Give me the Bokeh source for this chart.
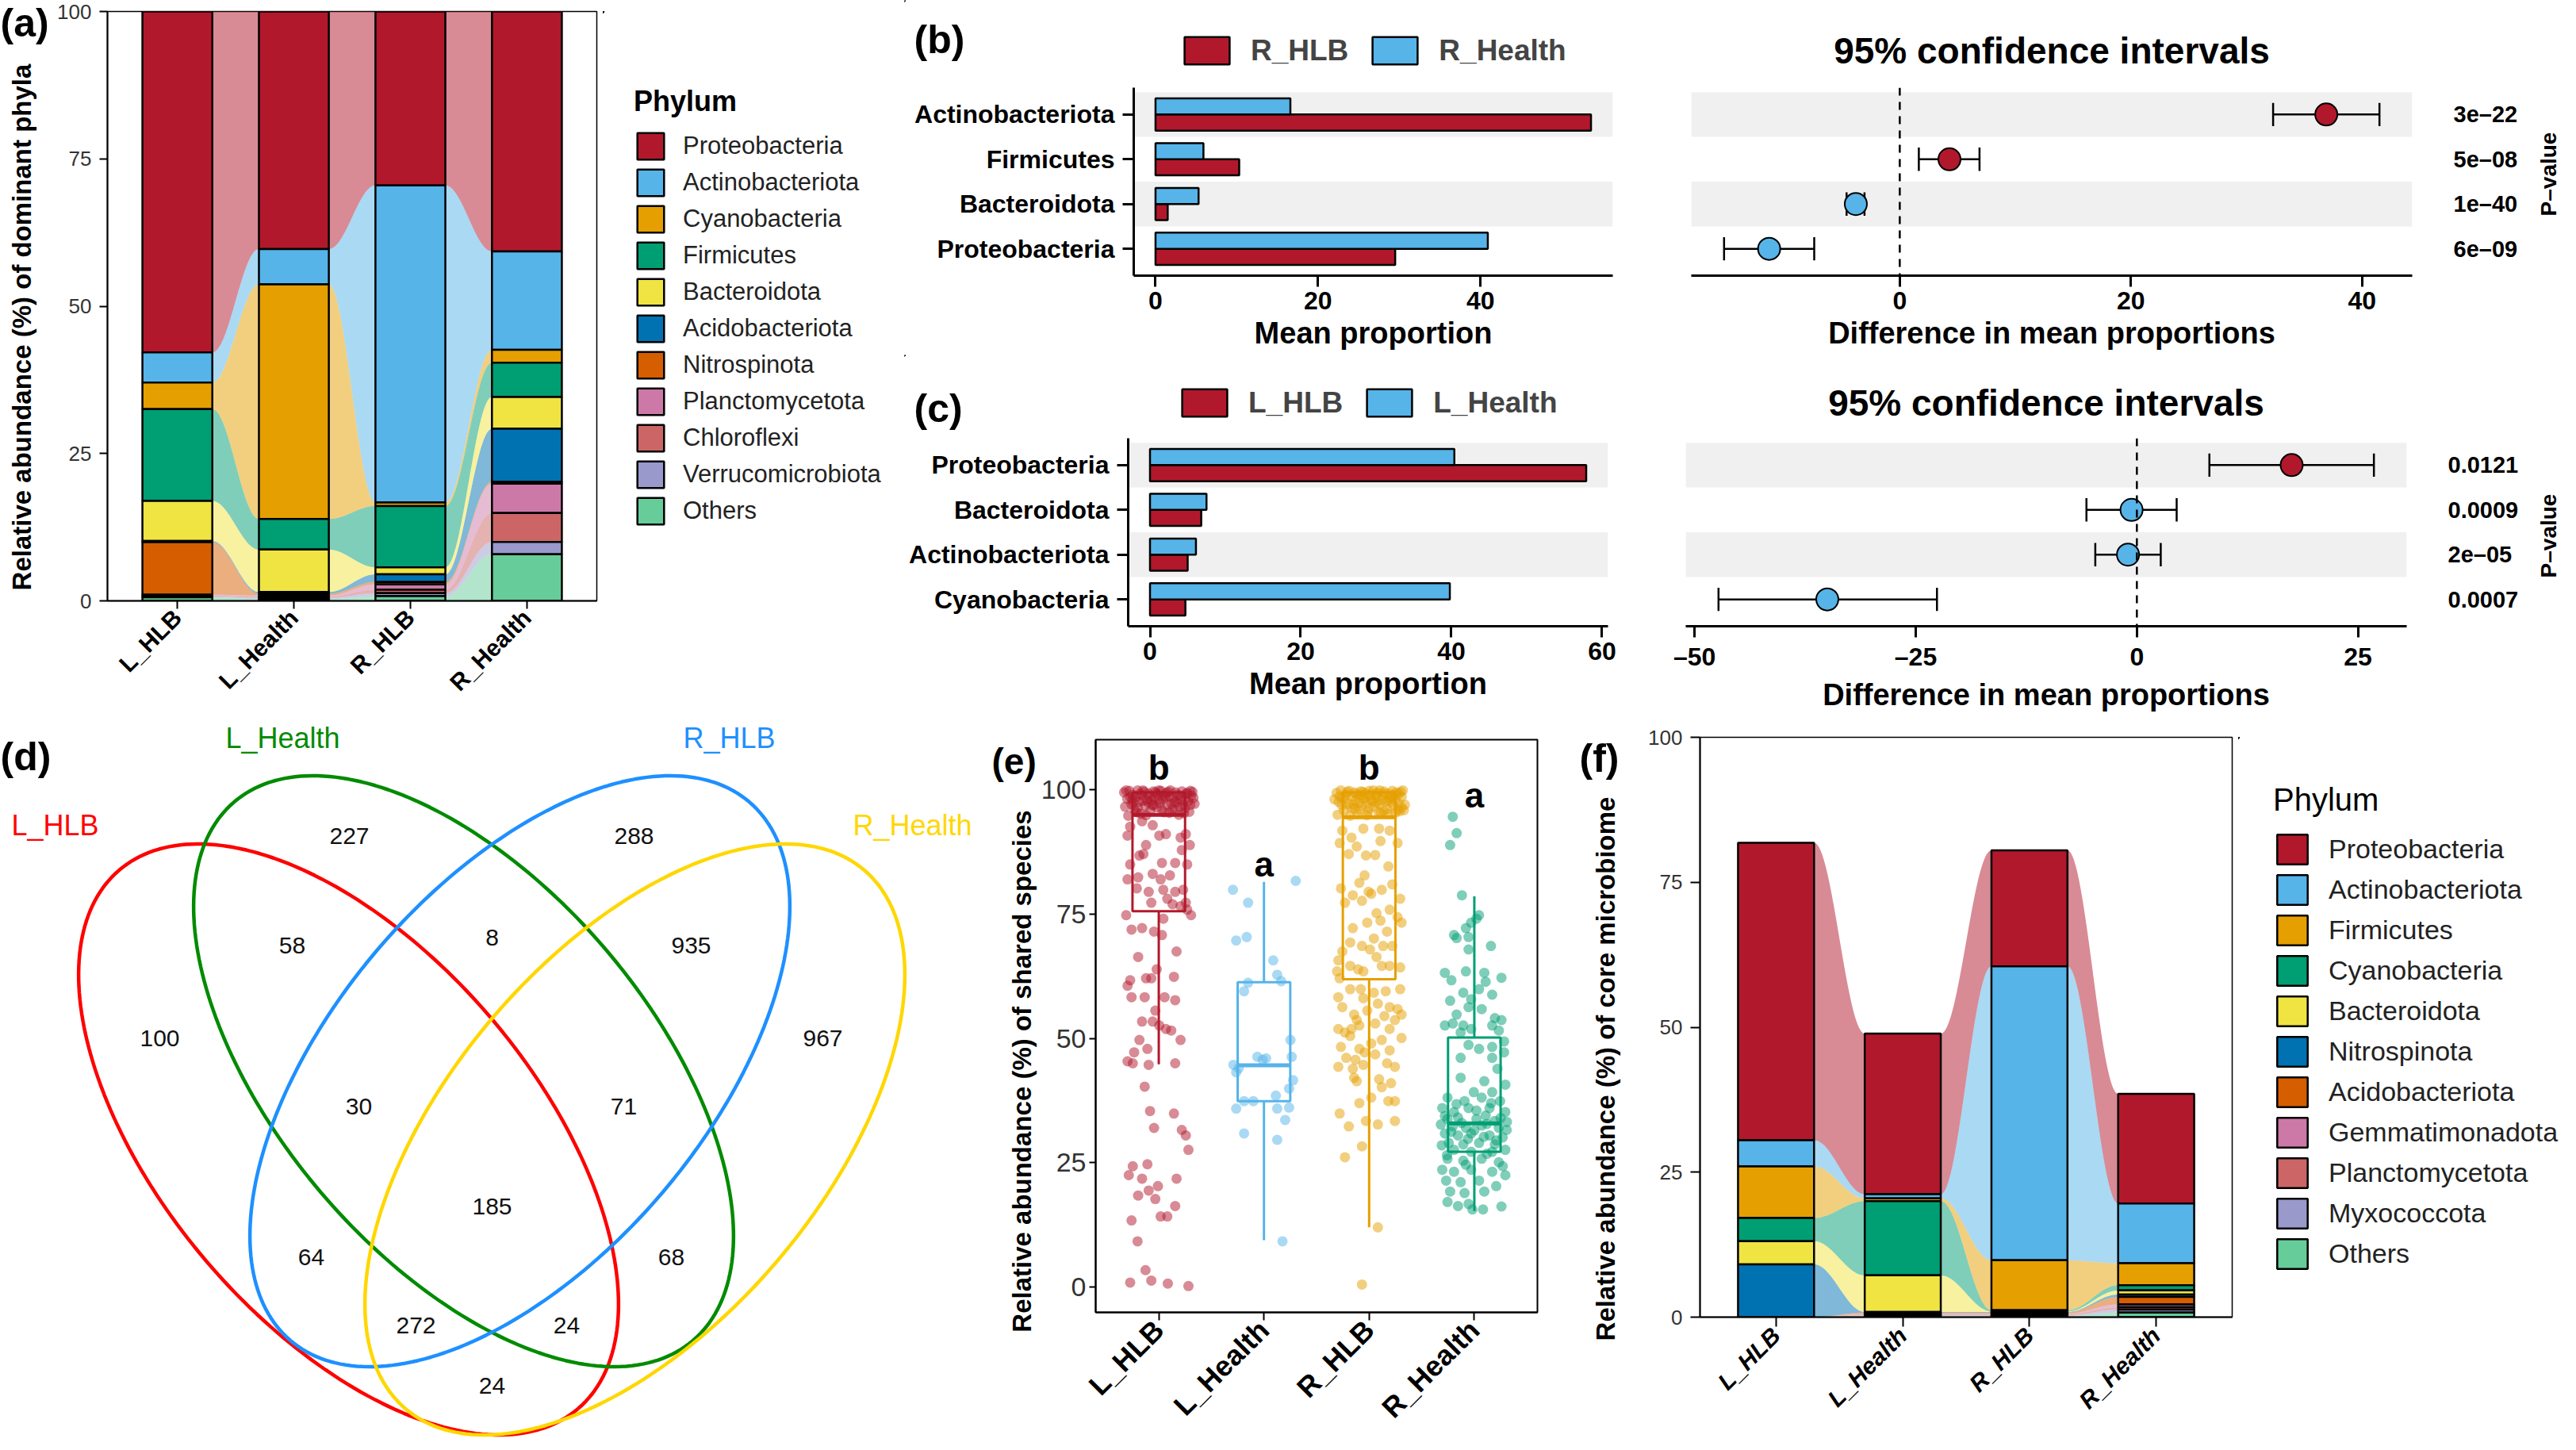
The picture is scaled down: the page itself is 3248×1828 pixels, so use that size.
import math
from bokeh.plotting import figure
from bokeh.models import (Range1d, FixedTicker, Legend, LegendItem, Span,
                          LinearAxis, BoxAnnotation, Plot)
from bokeh.layouts import row, column
from bokeh.embed import file_html
from bokeh.resources import INLINE
from bokeh.core.properties import value

FONT = "Liberation Sans"
HAS_FA = "frame_align" in Plot.properties()

# ======================= DATA =======================
groups = ["L_HLB", "L_Health", "R_HLB", "R_Health"]

# (a) relative abundance of dominant phyla (top of stack first)
phyla_a = ["Proteobacteria", "Actinobacteriota", "Cyanobacteria", "Firmicutes",
           "Bacteroidota", "Acidobacteriota", "Nitrospinota", "Planctomycetota",
           "Chloroflexi", "Verrucomicrobiota", "Others"]
a_L_HLB = [57.85, 5.1, 4.5, 15.6, 6.8, 0.2, 8.9, 0.15, 0.15, 0.15, 0.6]
a_L_Health = [40.3, 6.0, 39.8, 5.2, 7.2, 0.3, 0.3, 0.2, 0.2, 0.2, 0.3]
a_R_HLB = [29.5, 53.8, 0.6, 10.4, 1.2, 1.3, 0.4, 0.9, 0.6, 0.5, 0.8]
a_R_Health = [40.7, 16.7, 2.2, 5.8, 5.4, 9.0, 0.3, 5.0, 4.9, 2.1, 7.9]

# (b) root: R_HLB vs R_Health (bottom category first)
b_cats = ["Proteobacteria", "Bacteroidota", "Firmicutes", "Actinobacteriota"]
b_hlb = [29.5, 1.5, 10.3, 53.6]
b_health = [40.9, 5.3, 5.9, 16.6]
b_diff = [-11.3, -3.8, 4.3, 36.9]
b_lo = [-15.2, -4.6, 1.65, 32.3]
b_hi = [-7.4, -3.05, 6.9, 41.5]
b_p = ["6e\u201309", "1e\u201340", "5e\u201308", "3e\u201322"]

# (c) leaf: L_HLB vs L_Health (bottom category first)
c_cats = ["Cyanobacteria", "Actinobacteriota", "Bacteroidota", "Proteobacteria"]
c_hlb = [4.7, 5.0, 6.8, 57.9]
c_health = [39.8, 6.1, 7.5, 40.4]
c_diff = [-35.0, -1.0, -0.6, 17.5]
c_lo = [-47.3, -4.7, -5.7, 8.2]
c_hi = [-22.6, 2.7, 4.5, 26.8]
c_p = ["0.0007", "2e\u201305", "0.0009", "0.0121"]

# (d) Venn counts
venn_sets = ["L_HLB", "L_Health", "R_HLB", "R_Health"]
venn_counts = [227, 288, 100, 967, 58, 8, 935, 30, 71, 185, 64, 68, 272, 24, 24]

# (e) relative abundance of shared species
e_L_HLB_vals = [99.5, 98.2, 99.8, 97.1, 99.0, 96.0, 98.6, 99.9, 97.6, 95.2, 98.9, 99.6, 96.8, 98.0, 99.3,
                95.8, 97.9, 99.7, 98.4, 96.5, 99.1, 97.3, 99.8, 98.1, 95.5, 99.4, 97.0, 98.7, 99.9, 96.2,
                98.3, 99.5, 97.5, 95.0, 98.8, 99.7, 96.9, 98.1, 99.2, 97.7, 95.6, 98.9, 99.6, 97.2, 96.6,
                94.8, 98.5, 97.4, 95.5, 99.2, 97.8, 94.9, 98.8, 96.9, 99.5, 98.0, 96.0, 98.6, 99.6, 97.2,
                95.9, 99.0, 97.9, 95.3, 99.4, 97.0, 98.4, 99.9, 96.4, 97.5, 99.9, 95.4, 96.6, 99.8, 98.0,
                99.9, 97.0, 98.9, 97.6, 96.3,
                92.6, 93.7, 92.9, 90.8, 91.1, 90.4, 91.1, 90.8, 88.9, 88.9, 86.8, 87.1, 85.0, 87.9, 85.0,
                82.4, 83.1, 82.0, 82.8, 82.0, 80.2, 79.5, 79.9, 79.5, 79.9, 78.1, 77.3, 77.0, 77.3, 76.6,
                75.9, 85.3, 85.3,
                74.8, 71.9, 72.2, 71.5, 74.1, 70.8, 74.8, 67.5, 66.4, 63.9, 61.7, 60.6, 62.1, 62.1, 62.4,
                58.3, 58.3, 58.3, 57.7, 55.6, 53.4, 53.4, 52.6, 51.9, 51.6, 49.7, 49.7, 47.9, 47.2, 45.4,
                45.0, 44.7, 45.0, 40.3, 35.4, 34.9, 32.0, 31.6, 30.5, 27.6, 24.3, 24.7, 22.5, 21.8, 21.8,
                20.3, 19.4, 18.4, 17.7, 16.3, 14.2, 14.2, 13.4, 9.2, 3.4, 0.9, 1.3, 0.7, 0.2]
e_L_Health_vals = [79.9, 77.3, 81.7, 69.7, 70.4, 65.7, 62.8, 61.5, 61.2, 59.5, 49.7, 46.3, 46.3, 45.7, 44.7,
                   43.2, 41.6, 39.9, 38.5, 37.4, 37.4, 35.9, 35.9, 36.1, 33.6, 30.9, 29.6, 9.2, 44.0, 46.0]
e_R_HLB_vals = [99.4, 97.6, 99.9, 98.3, 95.9, 99.1, 97.2, 99.8, 96.4, 98.7, 99.5, 97.9, 95.1, 98.8, 99.7,
                96.8, 98.2, 99.3, 97.4, 95.6, 99.0, 98.0, 99.9, 96.6, 98.5, 99.4, 97.1, 95.3, 98.9, 99.7,
                97.7, 96.1, 99.2, 98.4, 99.8, 96.9, 98.0, 99.5, 97.3, 95.7, 98.6, 99.9, 97.0,
                95.0, 96.9, 98.0, 94.8, 97.0, 99.2, 96.0, 99.6, 98.5, 96.3, 97.7, 99.1, 95.5, 97.9, 99.3,
                95.2, 97.5, 99.0, 96.0, 99.6, 95.9, 98.7, 99.6, 96.2, 98.9, 99.8, 97.4, 95.8, 98.8, 99.2,
                98.1, 94.9, 99.9, 97.9, 95.4, 97.3, 96.5,
                91.8, 90.4, 92.2, 92.2, 91.8, 89.3, 89.3, 88.6, 86.8, 86.9, 87.1, 89.7, 84.6, 82.8, 81.3,
                79.5, 80.2, 78.8, 79.1, 79.9, 81.0, 78.1, 77.3, 77.7, 75.2, 75.9, 74.4, 73.7, 73.3, 73.3,
                72.2, 71.5, 70.1, 69.3, 68.6, 68.6, 68.6, 67.5, 67.9, 66.4, 64.6, 64.3, 65.7, 64.6, 63.9,
                63.5, 64.6,
                63.5, 62.1, 59.9, 59.9, 59.2, 59.5, 59.9, 58.3, 58.1, 57.0, 56.3, 55.9, 56.3, 54.8, 55.6,
                54.5, 53.7, 53.7, 54.8, 51.9, 51.2, 51.9, 52.6, 53.0, 51.9, 50.5, 50.1, 49.7, 49.0, 48.3,
                47.9, 47.2, 47.6, 46.8, 46.1, 45.7, 44.3, 43.9, 44.7, 44.3, 45.0, 42.1, 41.8, 41.0, 41.4,
                40.2, 38.1, 37.0, 37.4, 37.4, 34.9, 32.3, 33.4, 32.7, 33.4, 28.3, 26.1, 12.0, 0.5]
e_R_Health_vals = [94.6, 91.3, 88.9, 78.8,
                   74.8, 73.3, 74.1, 70.8, 70.2, 70.4, 72.2, 68.6, 67.9, 63.2, 61.7, 63.5, 63.2, 62.2,
                   59.2, 59.9, 61.4, 58.8, 57.6, 57.9, 56.3, 54.8, 55.9, 54.1, 53.7, 52.6, 53.0, 52.6,
                   52.6, 51.6, 51.2, 51.9,
                   49.4, 48.7, 47.9, 48.3, 46.1, 46.1, 47.2, 43.9, 42.1, 41.4, 40.7, 39.2, 39.2, 38.1,
                   37.4, 38.1, 37.4, 36.0, 35.2, 36.0, 36.0, 35.2, 33.8, 34.1, 33.8, 34.5, 33.4, 32.7,
                   32.3, 32.0, 32.5, 32.0, 31.6, 30.9, 30.5, 30.9, 30.5, 30.1, 29.0, 28.7, 29.0, 28.7,
                   27.6, 27.2, 27.2, 27.6,
                   25.8, 25.4, 25.8, 25.1, 23.6, 23.2, 23.6, 23.2, 22.5, 21.4, 21.1, 21.4, 20.3, 19.2,
                   18.9, 19.2, 17.1, 16.3, 15.6, 15.6, 16.2, 16.7,
                   34.4, 33.0, 31.5, 32.8, 34.0, 31.2, 29.8, 30.2, 29.5, 28.5, 33.2, 36.8, 35.5, 37.0,
                   26.5, 26.8, 24.3, 24.6]
e_low = [44.8, 9.4, 12.0, 15.3]
e_q1 = [75.6, 37.4, 61.9, 27.2]
e_median = [95.0, 44.6, 94.5, 32.9]
e_q3 = [99.5, 61.3, 99.5, 50.2]
e_high = [100.0, 81.5, 100.0, 78.6]
e_letters = ["b", "a", "b", "a"]
e_letter_y = [104.5, 85.1, 104.5, 98.9]

# (f) core microbiome (top of stack first)
phyla_f = ["Proteobacteria", "Actinobacteriota", "Firmicutes", "Cyanobacteria",
           "Bacteroidota", "Nitrospinota", "Acidobacteriota", "Gemmatimonadota",
           "Planctomycetota", "Myxococcota", "Others"]
f_L_HLB = [51.3, 4.5, 8.9, 4.0, 4.0, 9.1, 0, 0, 0, 0, 0]
f_L_Health = [27.7, 0.7, 0.5, 12.8, 6.3, 0.1, 0.2, 0.1, 0.2, 0.1, 0.2]
f_R_HLB = [20.0, 50.7, 8.6, 0.2, 0.1, 0.1, 0.2, 0.1, 0.2, 0.1, 0.2]
f_R_Health = [18.9, 10.3, 3.8, 0.9, 0.7, 0.4, 1.3, 0.5, 0.4, 0.5, 0.8]

# ======================= STYLE / LAYOUT =======================
PAL = ["#B2182B", "#56B4E9", "#E69F00", "#009E73", "#F0E442", "#0072B2",
       "#D55E00", "#CC79A7", "#CC6666", "#9999CC", "#66CC99"]
RED = "#B2182B"
BLUE = "#56B4E9"
GROUP_COL = ["#B2182B", "#56B4E9", "#E69F00", "#009E73"]
VENN_COL = ["#FF0000", "#008B00", "#1E90FF", "#FFD700"]

# jitter offsets (horizontal spread of the points in panel e)
e_L_HLB_jit = [-0.33, -0.30, -0.28, -0.26, -0.25, -0.23, -0.22, -0.20, -0.19, -0.17, -0.16, -0.14, -0.13, -0.11, -0.10,
               -0.08, -0.07, -0.05, -0.04, -0.02, -0.01, 0.01, 0.02, 0.04, 0.05, 0.07, 0.08, 0.10, 0.11, 0.13,
               0.14, 0.16, 0.17, 0.19, 0.20, 0.22, 0.23, 0.25, 0.26, 0.28, 0.29, 0.31, 0.32, 0.34, -0.32,
               -0.29, -0.27, -0.24, -0.21, -0.18, -0.15, -0.12, -0.09, -0.06, -0.03, 0.00, 0.03, 0.06, 0.09, 0.12,
               0.15, 0.18, 0.21, 0.24, 0.27, 0.30, 0.33, -0.31, -0.20, -0.10, 0.00, 0.10, 0.20, 0.30, -0.25,
               -0.15, -0.05, 0.05, 0.15, 0.25,
               -0.272, -0.159, -0.058, 0.005, 0.068, 0.207, 0.257, -0.297, 0.295, -0.121, -0.184, -0.146, -0.272,
               0.219, 0.270, -0.196, -0.058, 0.018, 0.106, -0.297, -0.209, -0.096, 0.043, 0.156, 0.232, 0.081,
               -0.071, 0.131, 0.257, 0.207, 0.270, 0.030, 0.156,
               -0.310, -0.259, -0.159, -0.045, 0.043, 0.030, 0.307, 0.169, -0.196, -0.020, -0.272, -0.297, -0.121,
               -0.071, 0.144, -0.259, -0.134, 0.055, 0.156, -0.033, -0.159, -0.058, 0.005, 0.068, 0.118, 0.207,
               -0.184, -0.108, -0.234, -0.297, -0.247, -0.096, 0.156, -0.134, -0.083, 0.144, -0.045, 0.219, 0.257,
               0.282, -0.247, -0.108, -0.285, -0.159, 0.169, -0.008, -0.096, -0.196, -0.033, 0.156, 0.018, 0.081,
               -0.259, -0.202, -0.126, -0.272, -0.071, 0.086, 0.282]
e_L_Health_jit = [-0.295, -0.151, 0.302, -0.264, -0.164, 0.088, 0.126, 0.164, -0.151, -0.189, 0.252, 0.264,
                  -0.063, -0.013, -0.290, -0.264, 0.277, 0.239, 0.113, -0.189, -0.101, -0.264, 0.126, 0.239,
                  0.202, -0.189, 0.126, 0.176, -0.240, 0.020]
e_R_HLB_jit = [-0.31, -0.29, -0.27, -0.25, -0.24, -0.22, -0.20, -0.19, -0.17, -0.16, -0.14, -0.13, -0.11, -0.10, -0.08,
               -0.07, -0.05, -0.04, -0.02, -0.01, 0.01, 0.02, 0.04, 0.05, 0.07, 0.08, 0.10, 0.11, 0.13, 0.14,
               0.16, 0.17, 0.19, 0.20, 0.22, 0.23, 0.25, 0.26, 0.28, 0.29, 0.31, 0.32, 0.34,
               -0.30, -0.26, -0.23, -0.18, -0.15, -0.12, -0.09, -0.06, -0.03, 0.00, 0.03, 0.06, 0.09, 0.12, 0.15,
               0.18, 0.21, 0.24, 0.27, 0.30, 0.33, -0.28, -0.21, -0.14, -0.07, 0.00, 0.07, 0.14, 0.21, 0.28,
               -0.33, -0.02, 0.10, 0.18, 0.25, -0.10, 0.31,
               -0.255, -0.168, -0.055, 0.095, 0.195, 0.27, -0.28, -0.118, -0.03, 0.058, -0.193, 0.108, 0.183,
               -0.043, -0.093, -0.005, -0.268, -0.155, 0.02, 0.12, 0.22, 0.295, -0.23, -0.068, 0.07, 0.195, 0.27,
               0.108, -0.018, 0.308, -0.155, 0.17, 0.045, -0.18, -0.068, 0.133, 0.22, -0.255, 0.008, 0.07, 0.195,
               0.295, -0.293, -0.18, -0.105, -0.055, 0.12,
               -0.305, -0.28, -0.18, -0.08, 0.045, 0.158, 0.295, -0.293, -0.055, 0.083, 0.195, 0.27, -0.255,
               -0.143, -0.018, 0.145, 0.245, -0.118, 0.308, -0.293, -0.23, -0.168, -0.093, 0.058, 0.195, -0.18,
               0.308, 0.12, 0.02, -0.268, -0.093, -0.043, 0.195, 0.058, -0.218, -0.13, -0.293, -0.155, -0.055,
               0.245, 0.17, -0.143, 0.095, 0.208, -0.118, 0.12, 0.02, -0.093, 0.183, 0.245, -0.28, -0.193, -0.03,
               0.083, 0.245, -0.068, -0.23, 0.083, -0.068]
e_R_Health_jit = [-0.205, -0.168, -0.23, -0.118,
                  0.045, -0.03, 0.02, -0.193, -0.168, -0.055, -0.08, 0.158, -0.055, -0.28, -0.218, -0.08, 0.095,
                  0.258, -0.105, 0.045, 0.108, 0.17, -0.23, -0.03, -0.055, -0.168, 0.07, 0.195, 0.258, -0.28,
                  -0.205, -0.105, 0.17, 0.233, -0.13, -0.03,
                  0.283, -0.055, 0.045, 0.17, -0.13, 0.17, 0.283, 0.22, -0.13, 0.095, 0.295, -0.005, 0.17, -0.255,
                  -0.093, 0.07, 0.245, -0.305, -0.193, -0.055, 0.145, 0.295, -0.255, -0.155, 0.02, 0.108, 0.195,
                  -0.318, -0.205, -0.08, 0.07, 0.233, 0.308, -0.28, -0.155, -0.03, 0.145, 0.27, -0.243, -0.105,
                  0.045, 0.195, -0.193, -0.03, 0.17, 0.295,
                  -0.255, -0.105, 0.07, 0.233, -0.305, -0.193, -0.03, 0.17, 0.295, -0.268, -0.13, 0.045, 0.208,
                  -0.23, -0.093, 0.095, -0.255, -0.155, -0.018, 0.083, 0.258, -0.055,
                  -0.28, -0.12, 0.0, 0.12, 0.25, -0.22, -0.06, 0.09, 0.21, -0.31, 0.31, -0.17, 0.02, 0.16,
                  -0.26, 0.12, 0.27, -0.08]

# Venn layout (pixel positions inside panel d, y downward)
venn_cx = [439, 584, 655, 800]
venn_cy = [536, 450, 450, 536]
venn_dir = [1, 1, -1, -1]
venn_a, venn_b, venn_phi = 446, 236, math.radians(49.6)
venn_lx = [440, 799, 201, 1037, 368, 620, 871, 452, 786, 620, 392, 846, 524, 714, 620]
venn_ly = [153, 153, 408, 408, 291, 281, 291, 494, 494, 620, 684, 684, 770, 770, 846]
venn_set_x = [69, 356, 919, 1150]
venn_set_y = [140, 30, 30, 140]

# legend proxies are drawn outside the visible range of the legend-only figures
PROXY_X = -1000


# ======================= HELPERS =======================
def make_fig(w, h, xr, yr, left, right, top, bottom, **kw):
    p = figure(width=w, height=h, x_range=xr, y_range=yr, output_backend="svg",
               toolbar_location=None, min_border_left=left, min_border_right=right,
               min_border_top=top, min_border_bottom=bottom, **kw)
    if HAS_FA:
        p.frame_align = False
    p.grid.visible = False
    p.outline_line_color = None
    p.background_fill_color = "white"
    p.border_fill_color = "white"
    return p


def pixel_fig(w, h, top=0, bottom=0):
    p = figure(width=w, height=h, x_range=Range1d(0, w), y_range=Range1d(h - top - bottom, 0),
               output_backend="svg", toolbar_location=None, x_axis_location=None,
               y_axis_location=None, min_border_left=0, min_border_right=0,
               min_border_top=top, min_border_bottom=bottom)
    if HAS_FA:
        p.frame_align = False
    p.grid.visible = False
    p.outline_line_color = None
    p.background_fill_color = "white"
    p.border_fill_color = "white"
    return p


def style_axis(ax, size, bold=False, color="black", italic=False, tick_out=10, lw=2, standoff=6):
    ax.axis_line_color = "black"
    ax.axis_line_width = lw
    ax.major_tick_line_color = "black"
    ax.major_tick_line_width = lw
    ax.major_tick_out = tick_out
    ax.major_tick_in = 0
    ax.minor_tick_line_color = None
    ax.major_label_text_font = FONT
    ax.major_label_text_font_size = size
    ax.major_label_text_color = color
    st = "bold" if bold else "normal"
    if italic:
        st = "bold italic" if bold else "italic"
    ax.major_label_text_font_style = st
    ax.major_label_standoff = standoff
    ax.axis_label_text_font = FONT
    ax.axis_label_text_font_style = "bold"
    ax.axis_label_text_color = "black"


def strip(w, h, letter, lx, ly, lsize, title, tx, ty, tsize="33px"):
    p = pixel_fig(w, h)
    if letter:
        p.text(x=[lx], y=[ly], text=[letter], text_font=value(FONT), text_font_size=lsize,
               text_font_style="bold", text_baseline="top", text_align="left", text_color="black")
    p.text(x=[tx], y=[ty], text=[title], angle=math.pi / 2, text_font=value(FONT),
           text_font_size=tsize, text_font_style="bold", text_align="center",
           text_baseline="middle", text_color="black")
    return p


def alluvial(p, stacks, colors, half_w=0.3, n=40):
    ng = len(stacks)
    nk = len(stacks[0])
    bottoms = [[0.0] * ng for _ in range(nk)]
    tops = [[0.0] * ng for _ in range(nk)]
    for g in range(ng):
        cum = 0.0
        for k in reversed(range(nk)):
            bottoms[k][g] = cum
            cum += stacks[g][k]
            tops[k][g] = cum
    centers = [g + 1 for g in range(ng)]
    ts = [i / (n - 1) for i in range(n)]
    ss = [0.5 - 0.5 * math.cos(math.pi * t) for t in ts]
    for k in reversed(range(nk)):
        xs_l, ys_l = [], []
        for g in range(ng - 1):
            if stacks[g][k] <= 0 and stacks[g + 1][k] <= 0:
                continue
            x0 = centers[g] + half_w
            x1 = centers[g + 1] - half_w
            xs = [x0 + (x1 - x0) * t for t in ts]
            top = [tops[k][g] + (tops[k][g + 1] - tops[k][g]) * s for s in ss]
            bot = [bottoms[k][g] + (bottoms[k][g + 1] - bottoms[k][g]) * s for s in ss]
            xs_l.append(xs + xs[::-1])
            ys_l.append(top + bot[::-1])
        if xs_l:
            p.patches(xs_l, ys_l, fill_color=colors[k], fill_alpha=0.5, line_color=None)
    for k in range(nk):
        xx, bb, tt = [], [], []
        for g in range(ng):
            if stacks[g][k] > 0:
                xx.append(centers[g])
                bb.append(bottoms[k][g])
                tt.append(tops[k][g])
        p.vbar(x=xx, bottom=bb, top=tt, width=2 * half_w, fill_color=colors[k],
               line_color="black", line_width=2.5)


def stacked_panel(w, h, left, right, top, bottom, stacks, tick_size, xlab_italic,
                  tick_out, tick_std):
    p = make_fig(w, h, Range1d(0.4, 4.6), Range1d(0, 100), left, right, top, bottom)
    alluvial(p, stacks, PAL)
    p.outline_line_color = "black"
    p.outline_line_width = 1.5
    style_axis(p.xaxis[0], "30px", bold=True, italic=xlab_italic, tick_out=tick_out)
    p.xaxis.ticker = FixedTicker(ticks=[1, 2, 3, 4])
    p.xaxis.major_label_overrides = {i + 1: g for i, g in enumerate(groups)}
    p.xaxis.major_label_orientation = math.pi / 4
    style_axis(p.yaxis[0], tick_size, color="#333333", tick_out=tick_out, standoff=tick_std)
    p.yaxis.ticker = FixedTicker(ticks=[0, 25, 50, 75, 100])
    return p


def proxy(p, col):
    return p.vbar(x=[PROXY_X], bottom=[0], top=[1], width=1, fill_color=col,
                  line_color="black", line_width=2.5)


def phylum_legend(w, h, top, bottom, names, margin, **kw):
    p = pixel_fig(w, h, top, bottom)
    items = [LegendItem(label=nm, renderers=[proxy(p, col)]) for nm, col in zip(names, PAL)]
    leg = Legend(items=items, location="left", title="Phylum", border_line_color=None,
                 background_fill_alpha=0, label_text_font=FONT, title_text_font=FONT,
                 label_text_color="#222222", title_text_color="black", padding=0,
                 margin=margin, **kw)
    p.add_layout(leg)
    return p


def group_legend(w, h, names, loc, letter, letter_y):
    p = pixel_fig(w, h)
    items = [LegendItem(label=nm, renderers=[proxy(p, col)]) for nm, col in zip(names, [RED, BLUE])]
    leg = Legend(items=items, orientation="horizontal", location=loc, border_line_color=None,
                 background_fill_alpha=0, glyph_width=71, glyph_height=43, spacing=23,
                 label_standoff=20, label_text_font=FONT, label_text_font_size="37px",
                 label_text_font_style="bold", padding=4, margin=0)
    p.add_layout(leg)
    p.text(x=[12], y=[letter_y], text=[letter], text_font=value(FONT), text_font_size="50px",
           text_font_style="bold", text_baseline="top", text_align="left", text_color="black")
    return p


def bar_panel(w, h, left, right, top, bottom, cats, hlb, health, ticks):
    m = max(hlb + health)
    p = make_fig(w, h, Range1d(-0.05 * m, 1.05 * m), Range1d(0.4, 4.6), left, right, top, bottom)
    idx = [1, 2, 3, 4]
    for band in (2, 4):
        p.add_layout(BoxAnnotation(bottom=band - 0.5, top=band + 0.5, fill_color="#F0F0F0",
                                   fill_alpha=1, line_color=None, level="underlay"))
    p.hbar(y=[i - 0.18 for i in idx], left=0, right=hlb, height=0.36, fill_color=RED,
           line_color="black", line_width=2.5)
    p.hbar(y=[i + 0.18 for i in idx], left=0, right=health, height=0.36, fill_color=BLUE,
           line_color="black", line_width=2.5)
    style_axis(p.xaxis[0], "32px", bold=True, tick_out=14, lw=3, standoff=6)
    p.xaxis.ticker = FixedTicker(ticks=ticks)
    p.xaxis.axis_label = "Mean proportion"
    p.xaxis.axis_label_text_font_size = "38px"
    p.xaxis.axis_label_standoff = 6
    style_axis(p.yaxis[0], "32px", bold=True, tick_out=14, lw=3, standoff=10)
    p.yaxis.ticker = FixedTicker(ticks=idx)
    p.yaxis.major_label_overrides = {i: c for i, c in zip(idx, cats)}
    return p


def ci_panel(w, h, left, right, top, bottom, diff, lo, hi, pvals, ticks, overrides, title_std):
    span = max(hi) - min(lo)
    xr = Range1d(min(lo) - 0.05 * span, max(hi) + 0.05 * span)
    p = make_fig(w, h, xr, Range1d(0.4, 4.6), left, right, top, bottom,
                 y_axis_location=None, title="95% confidence intervals")
    idx = [1, 2, 3, 4]
    for band in (2, 4):
        p.add_layout(BoxAnnotation(bottom=band - 0.5, top=band + 0.5, fill_color="#F0F0F0",
                                   fill_alpha=1, line_color=None, level="underlay"))
    p.add_layout(Span(location=0, dimension="height", line_color="black", line_width=2.5,
                      line_dash="10 8"))
    p.segment(x0=lo, y0=idx, x1=hi, y1=idx, line_color="black", line_width=2.5)
    p.segment(x0=lo, y0=[i - 0.26 for i in idx], x1=lo, y1=[i + 0.26 for i in idx],
              line_color="black", line_width=2.5)
    p.segment(x0=hi, y0=[i - 0.26 for i in idx], x1=hi, y1=[i + 0.26 for i in idx],
              line_color="black", line_width=2.5)
    cols = [RED if d > 0 else BLUE for d in diff]
    p.scatter(x=diff, y=idx, size=28, fill_color=cols, line_color="black", line_width=2)
    style_axis(p.xaxis[0], "32px", bold=True, tick_out=14, lw=3, standoff=6)
    p.xaxis.ticker = FixedTicker(ticks=ticks)
    if overrides:
        p.xaxis.major_label_overrides = overrides
    p.xaxis.axis_label = "Difference in mean proportions"
    p.xaxis.axis_label_text_font_size = "38px"
    p.xaxis.axis_label_standoff = 6
    ax = LinearAxis(ticker=FixedTicker(ticks=idx),
                    major_label_overrides={i: pv for i, pv in zip(idx, pvals)})
    ax.axis_line_color = None
    ax.major_tick_line_color = None
    ax.minor_tick_line_color = None
    ax.major_tick_out = 0
    ax.major_label_standoff = 52
    ax.major_label_text_font = FONT
    ax.major_label_text_font_size = "29px"
    ax.major_label_text_font_style = "bold"
    ax.major_label_text_color = "black"
    p.add_layout(ax, "right")
    p.title.align = "center"
    p.title.text_font = FONT
    p.title.text_font_size = "46px"
    p.title.text_font_style = "bold"
    p.title.text_color = "black"
    p.title.standoff = title_std
    return p


# ======================= PANEL (a) =======================
strip_a = strip(62, 900, "(a)", 0, 0, "50px", "Relative abundance (%) of dominant phyla", 27, 412)
pa = stacked_panel(698, 900, 73, 8, 14, 143, [a_L_HLB, a_L_Health, a_R_HLB, a_R_Health],
                   "26px", False, 10, 10)
leg_a = phylum_legend(380, 900, 14, 143, phyla_a, 39, glyph_width=42, glyph_height=42,
                      spacing=4, label_standoff=20, label_text_font_size="31px",
                      title_text_font_size="36px", title_text_font_style="bold",
                      title_standoff=14)

# ======================= PANELS (b), (c) =======================
leg_b = group_legend(952, 100, ["R_HLB", "R_Health"], (346, 15), "(b)", 21)
pbb = bar_panel(952, 347, 289, 59, 10, 100, b_cats, b_hlb, b_health, [0, 20, 40])
pbc = ci_panel(1100, 447, 40, 151, 110, 100, b_diff, b_lo, b_hi, b_p, [0, 20, 40], None, 42)
pv_b = strip(40, 447, None, 0, 0, "", "P\u2013value", 21, 219, "28px")
leg_c = group_legend(952, 100, ["L_HLB", "L_Health"], (343, 18), "(c)", 39)
pcb = bar_panel(952, 353, 282, 65, 5, 111, c_cats, c_hlb, c_health, [0, 20, 40, 60])
pcc = ci_panel(1100, 453, 33, 158, 105, 111, c_diff, c_lo, c_hi, c_p, [-50, -25, 0, 25],
               {-50: "\u201350", -25: "\u201325"}, 38)
pv_c = strip(40, 453, None, 0, 0, "", "P\u2013value", 21, 228, "28px")

# ======================= PANEL (d) =======================
pd_ = pixel_fig(1250, 912)
tt = [2 * math.pi * i / 240 for i in range(241)]
for cx, cy, dr, col in zip(venn_cx, venn_cy, venn_dir, VENN_COL):
    c, s = math.cos(venn_phi) * dr, math.sin(venn_phi)
    xs = [cx + venn_a * math.cos(t) * c - venn_b * math.sin(t) * s for t in tt]
    ys = [cy + venn_a * math.cos(t) * s + venn_b * math.sin(t) * c for t in tt]
    pd_.line(xs, ys, line_color=col, line_width=4.5)
pd_.text(x=venn_lx, y=venn_ly, text=[str(v) for v in venn_counts], text_font=value(FONT),
         text_font_size="30px", text_align="center", text_baseline="middle", text_color="#111111")
pd_.text(x=venn_set_x, y=venn_set_y, text=venn_sets, text_font=value(FONT),
         text_font_size="36px", text_align="center", text_baseline="middle", text_color=VENN_COL)
pd_.text(x=[0], y=[25], text=["(d)"], text_font=value(FONT), text_font_size="50px",
         text_font_style="bold", text_align="left", text_baseline="top", text_color="black")

# ======================= PANEL (e) =======================
strip_e = strip(58, 912, "(e)", 0, 33, "46px", "Relative abundance (%) of shared species", 38, 450)
pe = make_fig(674, 912, Range1d(0.4, 4.6), Range1d(-5.1, 110.1), 73, 44, 32, 152)
pe.outline_line_color = "black"
pe.outline_line_width = 2
for gi, (vals, jit) in enumerate([(e_L_HLB_vals, e_L_HLB_jit), (e_L_Health_vals, e_L_Health_jit),
                                  (e_R_HLB_vals, e_R_HLB_jit), (e_R_Health_vals, e_R_Health_jit)]):
    xs = [gi + 1 + j for j, _ in zip(jit, vals)]
    ys = [v for _, v in zip(jit, vals)]
    pe.scatter(x=xs, y=ys, size=13, fill_color=GROUP_COL[gi], line_color=None, fill_alpha=0.5)
cx = [1, 2, 3, 4]
pe.segment(x0=cx, y0=e_q3, x1=cx, y1=e_high, line_color=GROUP_COL, line_width=3)
pe.segment(x0=cx, y0=e_q1, x1=cx, y1=e_low, line_color=GROUP_COL, line_width=3)
pe.quad(left=[c - 0.25 for c in cx], right=[c + 0.25 for c in cx], bottom=e_q1, top=e_q3,
        fill_alpha=0, line_color=GROUP_COL, line_width=3)
pe.segment(x0=[c - 0.25 for c in cx], y0=e_median, x1=[c + 0.25 for c in cx], y1=e_median,
           line_color=GROUP_COL, line_width=5)
pe.text(x=cx, y=e_letter_y, text=e_letters, text_font=value(FONT), text_font_size="44px",
        text_font_style="bold", text_align="center", text_baseline="middle", text_color="black")
style_axis(pe.xaxis[0], "36px", bold=True, tick_out=10)
pe.xaxis.ticker = FixedTicker(ticks=cx)
pe.xaxis.major_label_overrides = {i + 1: g for i, g in enumerate(groups)}
pe.xaxis.major_label_orientation = math.pi / 4
style_axis(pe.yaxis[0], "34px", color="#333333", tick_out=8, standoff=4)
pe.yaxis.ticker = FixedTicker(ticks=[0, 25, 50, 75, 100])

# ======================= PANEL (f) =======================
strip_f = strip(88, 912, "(f)", 9, 27, "50px", "Relative abundance (%) of core microbiome", 42, 447)
pf = stacked_panel(752, 912, 73, 8, 29, 152, [f_L_HLB, f_L_Health, f_R_HLB, f_R_Health],
                   "26px", True, 12, 10)
leg_f = phylum_legend(410, 912, 29, 152, phyla_f, 44, glyph_width=48, glyph_height=47,
                      spacing=4, label_standoff=22, label_text_font_size="34px",
                      title_text_font_size="40px", title_text_font_style="normal",
                      title_standoff=16)

# ======================= LAYOUT =======================
layout = column(
    row(strip_a, pa, leg_a,
        column(row(column(leg_b, pbb), pbc, pv_b), row(column(leg_c, pcb), pcc, pv_c))),
    row(pd_, strip_e, pe, strip_f, pf, leg_f),
)
open("out.html", "w").write(file_html(layout, INLINE, "figure"))
